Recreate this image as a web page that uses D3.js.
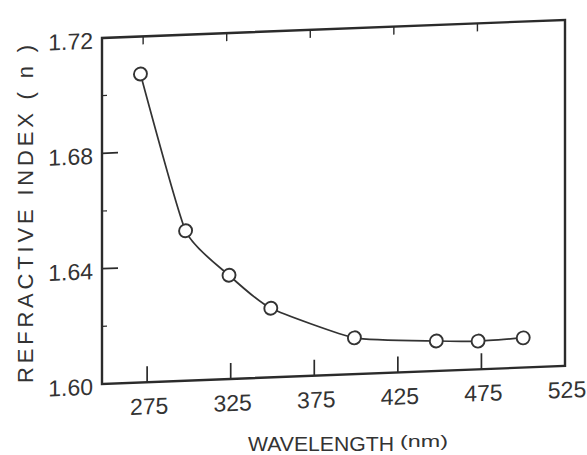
<!DOCTYPE html>
<html>
<head>
<meta charset="utf-8">
<script src="https://cdn.jsdelivr.net/npm/d3@7"></script>
<style>
  html, body { margin: 0; padding: 0; background: #fff; }
  svg { display: block; }
  text { font-family: "Liberation Sans", Arial, sans-serif; fill: #333; }
</style>
</head>
<body>
<svg id="chart" width="587" height="455"></svg>
<script>
// ---- data ----
const wavelengths = [271, 298, 324, 349, 399, 448, 473, 500];          // nm
const refractiveIndex = [1.707, 1.652, 1.636, 1.624, 1.6126, 1.6104, 1.6098, 1.6103];
const xTickValues = [275, 325, 375, 425, 475, 525];
const xTickLabels = ["275", "325", "375", "425", "475", "525"];
const yTickValues = [1.60, 1.64, 1.68, 1.72];
const yTickLabels = ["1.60", "1.64", "1.68", "1.72"];
const yMinorTickValues = [1.62, 1.66, 1.70];
const xTitle = "WAVELENGTH";
const xUnit = "(nm)";
const yTitle = "REFRACTIVE INDEX ( n )";

// ---- layout ----
const padL = 102, padR = 565, padT = 38, padB = 384;
const ink = "#2b2b2b";
const svg = d3.select("#chart");

const x = d3.scaleLinear().domain([248, 525]).range([padL, padR]);
const y = d3.scaleLinear().domain([1.60, 1.72]).range([padB, padT]);

// the scanned figure is slightly sheared (right side higher)
const shear = Math.atan(0.039) * 180 / Math.PI;
const g = svg.append("g")
  .attr("transform", `translate(${padL},${padB}) skewY(${-shear}) translate(${-padL},${-padB})`);

// frame
g.append("rect")
  .attr("x", padL).attr("y", padT)
  .attr("width", padR - padL).attr("height", padB - padT)
  .attr("fill", "none").attr("stroke", ink).attr("stroke-width", 2.4);

// bottom ticks (inward) + labels
const innerX = xTickValues.filter(d => d < 525);
g.append("g").selectAll("line").data(innerX).join("line")
  .attr("x1", d => x(d)).attr("x2", d => x(d))
  .attr("y1", padB).attr("y2", padB - 16)
  .attr("stroke", ink).attr("stroke-width", 1.7);
g.append("g").selectAll("text").data(xTickValues).join("text")
  .attr("x", d => x(d) + 2).attr("y", padB + 32)
  .attr("text-anchor", "middle").attr("font-size", 23)
  .text((d, i) => xTickLabels[i]);

// top ticks (inward)
g.append("g").selectAll("line").data(innerX).join("line")
  .attr("x1", d => x(d) - 4).attr("x2", d => x(d) - 4)
  .attr("y1", padT).attr("y2", padT + 8)
  .attr("stroke", ink).attr("stroke-width", 1.4);

// left ticks (inward) + labels
g.append("g").selectAll("line").data(yTickValues.filter(d => d > 1.60 && d < 1.72)).join("line")
  .attr("x1", padL).attr("x2", padL + 16)
  .attr("y1", d => y(d)).attr("y2", d => y(d))
  .attr("stroke", ink).attr("stroke-width", 1.7);
g.append("g").selectAll("line").data(yMinorTickValues).join("line")
  .attr("x1", padL).attr("x2", padL + 5)
  .attr("y1", d => y(d)).attr("y2", d => y(d))
  .attr("stroke", ink).attr("stroke-width", 1.2);
g.append("g").selectAll("text").data(yTickValues).join("text")
  .attr("x", padL - 9).attr("y", d => y(d) + 3)
  .attr("dy", "0.32em")
  .attr("text-anchor", "end").attr("font-size", 23)
  .text((d, i) => yTickLabels[i]);

// curve
const pts = wavelengths.map((w, i) => [w, refractiveIndex[i]]);
const line = d3.line().x(d => x(d[0])).y(d => y(d[1])).curve(d3.curveCardinal.tension(0.5));
g.append("path").datum(pts)
  .attr("d", line).attr("fill", "none")
  .attr("stroke", "#333").attr("stroke-width", 1.7);

// hollow markers
g.selectAll("circle.pt").data(pts).join("circle")
  .attr("class", "pt")
  .attr("cx", d => x(d[0])).attr("cy", d => y(d[1]))
  .attr("r", 6.5).attr("fill", "#fff")
  .attr("stroke", "#333").attr("stroke-width", 1.9);

// axis titles
svg.append("text")
  .attr("x", 248).attr("y", 451)
  .attr("font-size", 21).attr("textLength", 146).attr("lengthAdjust", "spacingAndGlyphs")
  .text(xTitle);
svg.append("text")
  .attr("x", 400).attr("y", 447)
  .attr("font-size", 17).attr("textLength", 48).attr("lengthAdjust", "spacingAndGlyphs")
  .text(xUnit);

svg.append("text")
  .attr("transform", "translate(33,383) rotate(-90)")
  .attr("x", 0).attr("y", 0)
  .attr("font-size", 22).attr("textLength", 338).attr("lengthAdjust", "spacing")
  .text(yTitle);
</script>
</body>
</html>
